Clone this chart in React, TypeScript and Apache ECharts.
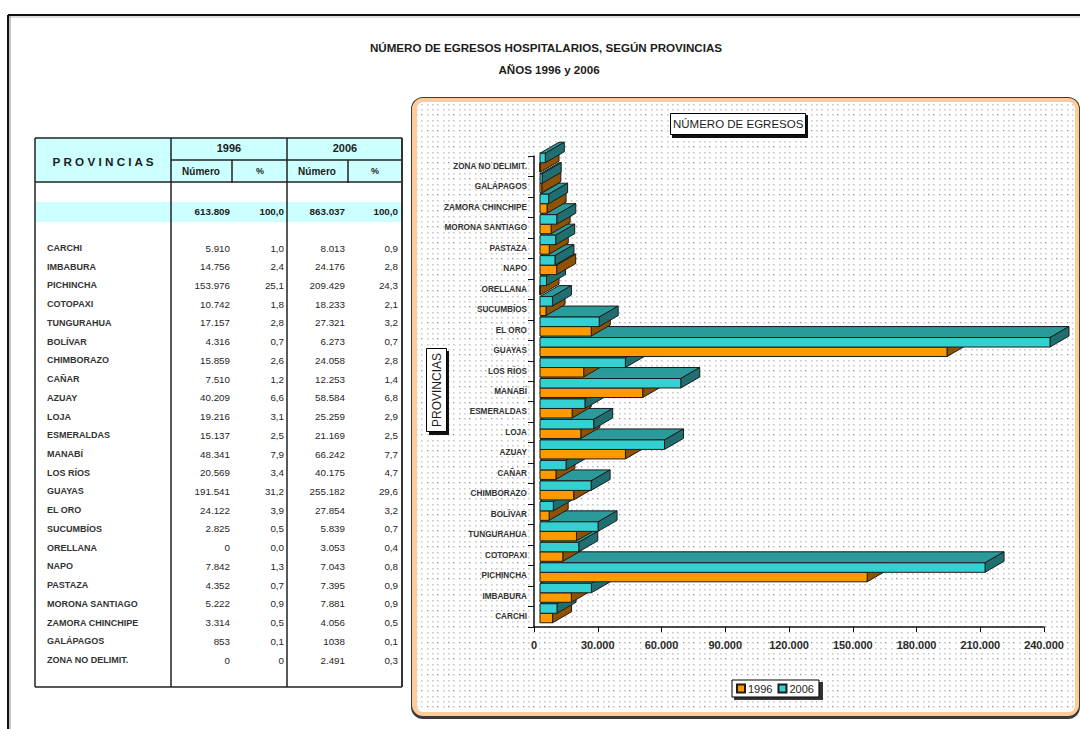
import React, { useEffect, useRef } from "react";
import * as echarts from "echarts";

const provinces = ["CARCHI", "IMBABURA", "PICHINCHA", "COTOPAXI", "TUNGURAHUA", "BOLÍVAR", "CHIMBORAZO", "CAÑAR", "AZUAY", "LOJA", "ESMERALDAS", "MANABÍ", "LOS RÍOS", "GUAYAS", "EL ORO", "SUCUMBÍOS", "ORELLANA", "NAPO", "PASTAZA", "MORONA SANTIAGO", "ZAMORA CHINCHIPE", "GALÁPAGOS", "ZONA NO DELIMIT."];
const values1996 = [5910, 14756, 153976, 10742, 17157, 4316, 15859, 7510, 40209, 19216, 15137, 48341, 20569, 191541, 24122, 2825, 0, 7842, 4352, 5222, 3314, 853, 0];
const values2006 = [8013, 24176, 209429, 18233, 27321, 6273, 24058, 12253, 58584, 25259, 21169, 66242, 40175, 255182, 27854, 5839, 3053, 7043, 7395, 7881, 4056, 1038, 2491];
const labels2006 = ["8.013", "24.176", "209.429", "18.233", "27.321", "6.273", "24.058", "12.253", "58.584", "25.259", "21.169", "66.242", "40.175", "255.182", "27.854", "5.839", "3.053", "7.043", "7.395", "7.881", "4.056", "1038", "2.491"];
const percent1996 = ["1,0", "2,4", "25,1", "1,8", "2,8", "0,7", "2,6", "1,2", "6,6", "3,1", "2,5", "7,9", "3,4", "31,2", "3,9", "0,5", "0,0", "1,3", "0,7", "0,9", "0,5", "0,1", "0"];
const percent2006 = ["0,9", "2,8", "24,3", "2,1", "3,2", "0,7", "2,8", "1,4", "6,8", "2,9", "2,5", "7,7", "4,7", "29,6", "3,2", "0,7", "0,4", "0,8", "0,9", "0,9", "0,5", "0,1", "0,3"];
const totals = ["613.809", "100,0", "863.037", "100,0"];
const xTicks = [30000, 60000, 90000, 120000, 150000, 180000, 210000, 240000];
const AXIS_MAX = 240000;

const FONT = '"Liberation Sans", Arial, sans-serif';
const INK = "#1c1c1c";

// Depth of the 3D box and of each bar, in pixels.
const WALL_DX = 31;
const WALL_DY = -19;
const BAR_SHIFT_X = 6;
const BAR_SHIFT_Y = -3.5;
const BAR_DX = 19;
const BAR_DY = -11;
const BAR_H = 9.5;

const fmt = (n: number) => String(n).replace(/\B(?=(\d{3})+(?!\d))/g, ".");

// Repeating stipple used as the panel's fill: soft dots, a few darker ones.
function makeDotTile() {
  const c = document.createElement("canvas");
  c.width = 32;
  c.height = 32;
  const g = c.getContext("2d")!;
  g.fillStyle = "#ffffff";
  g.fillRect(0, 0, 32, 32);
  const cols = [0, 5, 11, 16, 21, 27];
  const rows = [2, 8, 13, 18, 24, 29];
  rows.forEach((y, r) => {
    cols.forEach((x, k) => {
      g.fillStyle = "#e4e4e4";
      g.fillRect(x, y, 2, 2);
      const strong = (r === 0 && k % 2 === 0) || (r === 3 && k % 3 === 1);
      g.fillStyle = strong ? "#8c8c8c" : "#c8c8c8";
      g.fillRect(x, y, 1, 1);
    });
  });
  return c;
}

function txt(text: string, x: number, y: number, size: number, opts: any = {}) {
  return {
    type: "text",
    silent: true,
    style: {
      text,
      x,
      y,
      font: `${opts.weight || "normal"} ${size}px ${FONT}`,
      fill: opts.fill || INK,
      align: opts.align || "left",
      verticalAlign: "middle",
    },
  };
}
function rect(x: number, y: number, width: number, height: number, fill: any, r = 0) {
  return { type: "rect", silent: true, shape: { x, y, width, height, r }, style: { fill } };
}
function seg(x1: number, y1: number, x2: number, y2: number, stroke = "#222222", lineWidth = 1.5) {
  return { type: "line", silent: true, shape: { x1, y1, x2, y2 }, style: { stroke, lineWidth } };
}

// Table on the left, drawn from the same arrays as the bars.
function tableElements() {
  const L = 35, R = 402, C1 = 171, C2 = 287, S1 = 232, S2 = 348;
  const T = 138, M = 160, H = 182, B = 687;
  const els: any[] = [
    rect(L, T, R - L, H - T, "#CCFFFF"),
    rect(L, 202, R - L, 20, "#CCFFFF"),
    seg(L, T, R, T), seg(L, H, R, H), seg(C1, M, R, M), seg(L, B, R, B),
    seg(L, T, L, B), seg(C1, T, C1, B), seg(C2, T, C2, B), seg(R, T, R, B, "#333333", 2),
    seg(S1, M, S1, H + 1), seg(S2, M, S2, H + 1),
    txt("P R O V I N C I A S", 103, 161, 11.7, { weight: "bold", align: "center" }),
    txt("1996", 229, 148, 11, { weight: "bold", align: "center" }),
    txt("2006", 345, 148, 11, { weight: "bold", align: "center" }),
    txt("Número", 201, 171, 10, { weight: "bold", align: "center" }),
    txt("%", 260, 171, 9, { weight: "bold", align: "center" }),
    txt("Número", 317, 171, 10, { weight: "bold", align: "center" }),
    txt("%", 375, 171, 9, { weight: "bold", align: "center" }),
    txt(totals[0], 230, 211, 9.8, { weight: "bold", align: "right" }),
    txt(totals[1], 284, 211, 9.8, { weight: "bold", align: "right" }),
    txt(totals[2], 345, 211, 9.8, { weight: "bold", align: "right" }),
    txt(totals[3], 398, 211, 9.8, { weight: "bold", align: "right" }),
  ];
  provinces.forEach((p, i) => {
    const y = 248 + i * 18.73;
    els.push(txt(p, 47, y, 9, { weight: "bold", fill: "#333333" }));
    els.push(txt(fmt(values1996[i]), 230, y, 9.8, { align: "right", fill: "#262626" }));
    els.push(txt(percent1996[i], 284, y, 9.8, { align: "right", fill: "#262626" }));
    els.push(txt(labels2006[i], 345, y, 9.8, { align: "right", fill: "#262626" }));
    els.push(txt(percent2006[i], 398, y, 9.8, { align: "right", fill: "#262626" }));
  });
  return els;
}

const barRenderer = (slot: number, front: string, top: string, side: string) => (_p: any, api: any) => {
  const cat = api.value(1);
  const val = Math.min(api.value(0), AXIS_MAX);
  const start = api.coord([0, cat]);
  const end = api.coord([val, cat]);
  const x0 = start[0] + BAR_SHIFT_X;
  const x1 = end[0] + BAR_SHIFT_X;
  const yTop = start[1] + BAR_SHIFT_Y + (slot === 0 ? 0 : -BAR_H);
  const yBot = yTop + BAR_H;
  // Upper rows paint over the depth faces of the rows below them.
  const z2 = cat * 2 + slot;
  const line = { stroke: INK, lineWidth: 1 };
  return {
    type: "group",
    children: [
      {
        type: "polygon",
        z2,
        shape: { points: [[x0, yTop], [x1, yTop], [x1 + BAR_DX, yTop + BAR_DY], [x0 + BAR_DX, yTop + BAR_DY]] },
        style: { fill: top, ...line },
      },
      {
        type: "polygon",
        z2,
        shape: { points: [[x1, yTop], [x1 + BAR_DX, yTop + BAR_DY], [x1 + BAR_DX, yBot + BAR_DY], [x1, yBot]] },
        style: { fill: side, ...line },
      },
      {
        type: "rect",
        z2,
        shape: { x: x0, y: yTop, width: x1 - x0, height: BAR_H },
        style: { fill: front, ...line },
      },
    ],
  };
};

// Back wall, side wall and floor of the 3D box.
const boxRenderer = (params: any) => {
  const c = params.coordSys;
  const x = c.x, y = c.y, w = c.width, h = c.height;
  const bottom = y + h;
  const pts = (a: number[][]) => ({ points: a });
  const fill = { fill: "#FFFFCC" };
  return {
    type: "group",
    children: [
      { type: "polygon", shape: pts([[x, y], [x + WALL_DX, y + WALL_DY], [x + WALL_DX, bottom + WALL_DY], [x, bottom]]), style: fill },
      { type: "polygon", shape: pts([[x + WALL_DX, y + WALL_DY], [x + w + WALL_DX, y + WALL_DY], [x + w + WALL_DX, bottom + WALL_DY], [x + WALL_DX, bottom + WALL_DY]]), style: fill },
      { type: "polygon", shape: pts([[x, bottom], [x + w, bottom], [x + w + WALL_DX, bottom + WALL_DY], [x + WALL_DX, bottom + WALL_DY]]), style: fill },
      { type: "line", shape: { x1: x + 6, y1: y - 2, x2: x + 6, y2: bottom - 3 }, style: { stroke: "#2a2a2a", lineWidth: 1 } },
    ],
  };
};

// One wall gridline and its diagonal across the floor.
const gridRenderer = (_p: any, api: any) => {
  const p = api.coord([api.value(0), 0]);
  const c = _p.coordSys;
  const bottom = c.y + c.height;
  const top = c.y + WALL_DY;
  const bx = p[0] + WALL_DX;
  const by = bottom + WALL_DY;
  return {
    type: "group",
    children: [
      { type: "line", shape: { x1: bx, y1: top, x2: bx, y2: by }, style: { stroke: "#96966f", lineWidth: 2 } },
      { type: "line", shape: { x1: p[0], y1: bottom, x2: bx, y2: by }, style: { stroke: "#6f6f55", lineWidth: 1 } },
    ],
  };
};

export default function App() {
  const ref = useRef<HTMLDivElement>(null);
  useEffect(() => {
    const chart = echarts.init(ref.current!, undefined, { renderer: "svg" });
    const tile = makeDotTile();
    chart.setOption({
      animation: false,
      backgroundColor: "#ffffff",
      textStyle: { fontFamily: FONT },
      title: [
        { text: "NÚMERO DE EGRESOS HOSPITALARIOS, SEGÚN PROVINCIAS", left: 546, top: 41, textAlign: "center", padding: 0, textStyle: { fontSize: 11.6, fontWeight: "bold", color: INK } },
        { text: "AÑOS 1996 y 2006", left: 549, top: 63, textAlign: "center", padding: 0, textStyle: { fontSize: 11.6, fontWeight: "bold", color: INK } },
        { text: "NÚMERO DE EGRESOS", left: 670, top: 113, padding: [5, 2, 5, 3], backgroundColor: "#ffffff", borderColor: "#000000", borderWidth: 1, textStyle: { fontSize: 11.5, fontWeight: "normal", color: INK } },
      ],
      legend: {
        left: 732,
        top: 680,
        data: ["1996", "2006"],
        orient: "horizontal",
        backgroundColor: "#ffffff",
        borderColor: "#000000",
        borderWidth: 1,
        padding: [3, 5, 3, 4],
        itemWidth: 8,
        itemHeight: 8,
        itemGap: 5,
        icon: "rect",
        selectedMode: false,
        textStyle: { fontSize: 11, color: INK, padding: [0, 0, 0, -2] },
      },
      grid: { left: 534, right: 36, top: 156, bottom: 102, containLabel: false },
      xAxis: {
        type: "value",
        min: 0,
        max: AXIS_MAX,
        interval: 30000,
        axisLine: { show: true, lineStyle: { color: "#111111", width: 1.5 } },
        axisTick: { show: true, length: 5, lineStyle: { color: "#111111", width: 1 } },
        axisLabel: { show: true, fontSize: 11, fontWeight: "bold", color: "#2a2a2a", margin: 12, formatter: (v: number) => fmt(v) },
        splitLine: { show: false },
      },
      yAxis: {
        type: "category",
        data: provinces,
        axisLine: { show: true, lineStyle: { color: "#111111", width: 1.5 } },
        axisTick: { show: true, length: 6, alignWithLabel: false, lineStyle: { color: "#111111", width: 1 } },
        axisLabel: { show: true, interval: 0, fontSize: 8.2, fontWeight: "bold", color: "#333333", margin: 7 },
        splitLine: { show: false },
      },
      graphic: {
        z: -1,
        elements: [
          // Page frame
          seg(8, 15, 1080, 15, "#111111", 2),
          seg(8, 17, 1080, 17, "#bbbbbb", 1),
          seg(8, 15, 8, 729, "#111111", 2),
          seg(10, 16, 10, 729, "#888888", 1),
          // Chart panel
          rect(411, 97, 669, 622, "#3a3a3a", 12),
          rect(412, 98, 667, 618, "#FFCC99", 11),
          rect(417, 102, 658, 610, { image: tile, repeat: "repeat" }, 6),
          // Box shadows behind the name plates and legend
          rect(672, 115, 136, 23, "#111111"),
          rect(734, 682, 89, 18, "#333333"),
          // Category axis name plate
          rect(429, 351, 20, 84, "#111111"),
          { type: "rect", silent: true, shape: { x: 426.5, y: 348.5, width: 20, height: 83 }, style: { fill: "#ffffff", stroke: "#000000", lineWidth: 1 } },
          {
            type: "text",
            silent: true,
            x: 436.5,
            y: 390,
            rotation: Math.PI / 2,
            style: { text: "PROVINCIAS", x: 0, y: 0, font: `normal 12px ${FONT}`, fill: INK, align: "center", verticalAlign: "middle" },
          },
          ...tableElements(),
        ],
      },
      series: [
        {
          id: "box",
          type: "custom",
          z: -0.5,
          silent: true,
          clip: false,
          coordinateSystem: "cartesian2d",
          renderItem: boxRenderer,
          data: [[0, 0]],
          encode: { x: 0, y: 1 },
        },
        {
          id: "grid",
          type: "custom",
          z: -0.4,
          silent: true,
          clip: false,
          coordinateSystem: "cartesian2d",
          renderItem: gridRenderer,
          data: xTicks.map((t) => [t, 0]),
          encode: { x: 0, y: 1 },
        },
        {
          name: "1996",
          type: "custom",
          z: 2,
          clip: false,
          coordinateSystem: "cartesian2d",
          itemStyle: { color: "#FF9900", borderColor: INK, borderWidth: 1 },
          renderItem: barRenderer(0, "#FF9900", "#B36B00", "#8F5200"),
          data: values1996.map((v, i) => [v, i]),
          encode: { x: 0, y: 1 },
        },
        {
          name: "2006",
          type: "custom",
          z: 2,
          clip: false,
          coordinateSystem: "cartesian2d",
          itemStyle: { color: "#33D1D1", borderColor: INK, borderWidth: 1 },
          renderItem: barRenderer(1, "#33D1D1", "#2A9A9A", "#1F6F70"),
          data: values2006.map((v, i) => [v, i]),
          encode: { x: 0, y: 1 },
        },
      ],
    });
    return () => chart.dispose();
  }, []);
  return <div ref={ref} style={{ position: "absolute", left: 0, top: 0, width: 1080, height: 729 }} />;
}
